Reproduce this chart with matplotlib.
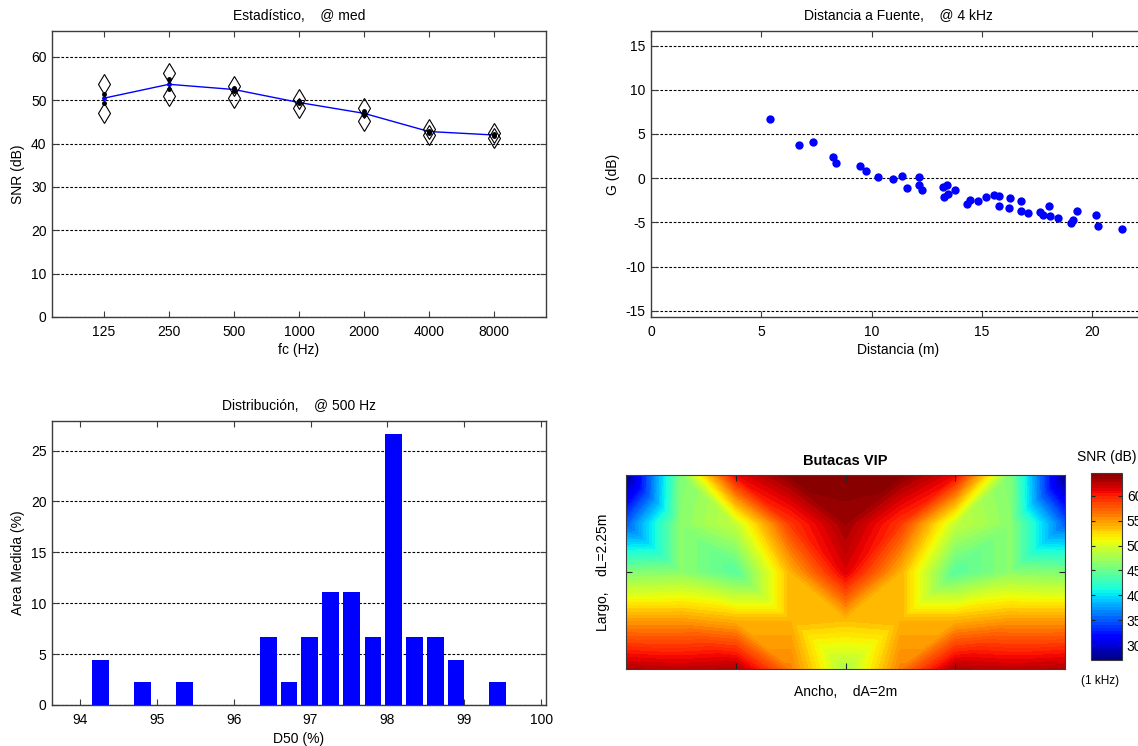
import numpy as np
import matplotlib
matplotlib.use("Agg")
import matplotlib.pyplot as plt
import matplotlib.tri as mtri

plt.rcParams['font.family'] = ['Liberation Sans', 'DejaVu Sans']
plt.rcParams['font.size'] = 10
plt.rcParams['axes.unicode_minus'] = False

# --- Estadistico @ med ---
bands = ['125', '250', '500', '1000', '2000', '4000', '8000']
snr_med = [50.5, 53.7, 52.5, 49.5, 47.0, 42.8, 42.0]
snr_max = [53.8, 56.3, 53.2, 50.3, 48.2, 43.3, 42.5]
snr_min = [47.0, 51.0, 50.5, 48.2, 45.2, 42.0, 41.2]
snr_q3 = [51.5, 54.9, 52.8, 49.8, 47.6, 43.0, 42.2]
snr_q1 = [49.3, 52.7, 52.2, 49.3, 46.5, 42.5, 41.8]

# --- Distancia a Fuente @ 4 kHz ---
dist = [5.40, 6.69, 7.35, 8.27, 8.37, 9.47, 9.73, 10.29, 10.97, 11.37, 11.63,
        12.15, 12.15, 12.31, 13.23, 13.44, 13.27, 13.48, 13.79, 14.35, 14.45,
        14.84, 15.18, 15.55, 15.77, 15.76, 16.27, 16.23, 16.79, 16.79, 17.10,
        17.63, 17.77, 18.03, 18.08, 18.45, 19.05, 19.13, 19.31, 20.18, 20.29, 21.37]
gain = [6.65, 3.80, 4.06, 2.37, 1.73, 1.32, 0.86, 0.11, -0.08, 0.23, -1.09,
        0.11, -0.75, -1.35, -1.05, -0.75, -2.11, -1.80, -1.32, -2.89, -2.44,
        -2.59, -2.18, -1.88, -2.07, -3.12, -2.29, -3.38, -2.56, -3.72, -3.98,
        -3.83, -4.14, -3.20, -4.32, -4.55, -5.04, -4.70, -3.76, -4.14, -5.41, -5.71]

# --- Distribucion @ 500 Hz ---
d50 = [94.27, 94.82, 95.36, 96.45, 96.72, 96.99, 97.26, 97.53, 97.81, 98.08,
       98.35, 98.62, 98.89, 99.43]
area = [4.44, 2.22, 2.22, 6.67, 2.22, 6.67, 11.11, 11.11, 6.67, 26.67,
        6.67, 6.67, 4.44, 2.22]

# --- Butacas VIP (SNR map, rows bottom -> top) ---
snr_map = [
    [63, 62.5, 63, 56, 48, 56, 63, 62.5, 63],
    [55, 55, 54, 54, 53.5, 54, 54, 55, 55],
    [46, 46.5, 44, 54, 61.5, 54, 44, 46.5, 46],
    [35, 46.5, 49, 59, 63.5, 59, 49, 46.5, 35],
    [27, 46, 61, 64.3, 64.6, 64.3, 61, 46, 27],
]

W, H = 1138, 746
fig = plt.figure(figsize=(W / 100, H / 100), dpi=100)

def box(x0, x1, y0, y1):
    return [x0 / W, 1 - y1 / H, (x1 - x0) / W, (y1 - y0) / H]

def matlab_style(ax):
    for s in ax.spines.values():
        s.set_color('#3c3c3c')
        s.set_linewidth(1.0)
    ax.tick_params(direction='in', top=True, right=True, length=4,
                   color='#3c3c3c', labelsize=10)
    ax.tick_params(axis='x', pad=6)
    ax.tick_params(axis='y', pad=4)
    ax.yaxis.grid(True, color='black', linestyle=(0, (2.4, 1.6)), linewidth=0.8)
    ax.set_axisbelow(True)

# top left
ax1 = fig.add_axes(box(52, 546, 31, 317))
xpos = np.arange(1, len(bands) + 1)
ax1.plot(xpos, snr_med, color='blue', lw=1, marker='.', ms=5, zorder=3)
ax1.plot(xpos, snr_q3, '.', color='black', ms=5, zorder=4)
ax1.plot(xpos, snr_q1, '.', color='black', ms=5, zorder=4)
ax1.plot(xpos, snr_max, 'd', mfc='none', mec='black', ms=10, mew=0.8, zorder=4)
ax1.plot(xpos, snr_min, 'd', mfc='none', mec='black', ms=10, mew=0.8, zorder=4)
ax1.set_xlim(0.2, 7.8)
ax1.set_ylim(0, 66)
ax1.set_xticks(xpos)
ax1.set_xticklabels(bands)
ax1.set_yticks(range(0, 61, 10))
matlab_style(ax1)
ax1.set_title('Estadístico,    @ med', fontsize=10, pad=8)
ax1.set_xlabel('fc (Hz)', labelpad=3)
ax1.set_ylabel('SNR (dB)', labelpad=4)

# top right
ax2 = fig.add_axes(box(651, 1145, 31, 317))
ax2.plot(dist, gain, 'o', color='blue', ms=6, mec='none')
ax2.set_xlim(0, 22.4)
ax2.set_ylim(min(gain) - 10, max(gain) + 10)
ax2.set_xticks(range(0, 21, 5))
ax2.set_yticks(range(-15, 16, 5))
matlab_style(ax2)
ax2.set_title('Distancia a Fuente,    @ 4 kHz', fontsize=10, pad=8)
ax2.set_xlabel('Distancia (m)', labelpad=3)
ax2.set_ylabel('G (dB)', labelpad=4)

# bottom left
ax3 = fig.add_axes(box(52, 546, 421, 705))
ax3.bar(d50, area, width=0.217, color='blue', edgecolor='none', zorder=3)
ax3.set_xlim(93.64, 100.06)
ax3.set_ylim(0, 27.9)
ax3.set_xticks(range(94, 101))
ax3.set_yticks(range(0, 26, 5))
matlab_style(ax3)
ax3.set_title('Distribución,    @ 500 Hz', fontsize=10, pad=8)
ax3.set_xlabel('D50 (%)', labelpad=3)
ax3.set_ylabel('Area Medida (%)', labelpad=4)

# bottom right
ax4 = fig.add_axes(box(626, 1065, 475, 669))
z = np.array(snr_map, dtype=float)
ny, nx = z.shape
gx, gy = np.meshgrid(np.linspace(0, 1, nx), np.linspace(0, 1, ny))
tris = []
for j in range(ny - 1):
    for i in range(nx - 1):
        a, b = j * nx + i, j * nx + i + 1
        c, d = (j + 1) * nx + i, (j + 1) * nx + i + 1
        if i < (nx - 1) // 2:
            tris += [[a, b, c], [b, d, c]]
        else:
            tris += [[a, b, d], [a, d, c]]
tri = mtri.Triangulation(gx.ravel(), gy.ravel(), tris)
levels = np.linspace(z.min(), z.max(), 65)
cs = ax4.tricontourf(tri, z.ravel(), levels=levels, cmap='jet')
ax4.set_xlim(0, 1)
ax4.set_ylim(0, 1)
ax4.set_xticks([0.25, 0.5, 0.75])
ax4.set_yticks([0.5])
ax4.set_xticklabels([])
ax4.set_yticklabels([])
for s in ax4.spines.values():
    s.set_color('#3c3c3c')
ax4.tick_params(direction='in', top=True, right=True, length=4, color='#222222')
ax4.set_title('Butacas VIP', fontsize=10.5, fontweight='bold', pad=7)
ax4.set_xlabel('Ancho,    dA=2m', labelpad=8)
ax4.set_ylabel('Largo,    dL=2.25m', labelpad=8)

cax = fig.add_axes(box(1091, 1122, 473, 660))
cb = fig.colorbar(cs, cax=cax, ticks=[30, 35, 40, 45, 50, 55, 60])
cb.outline.set_edgecolor('#3c3c3c')
cax.tick_params(direction='in', length=3, labelsize=10, left=True, color='#222222')
cax.set_title('SNR (dB)', fontsize=10, pad=9)
cax.text(0.3, -0.08, '(1 kHz)', transform=cax.transAxes, ha='center', va='top', fontsize=8.5)

fig.savefig('out.png', dpi=100)
